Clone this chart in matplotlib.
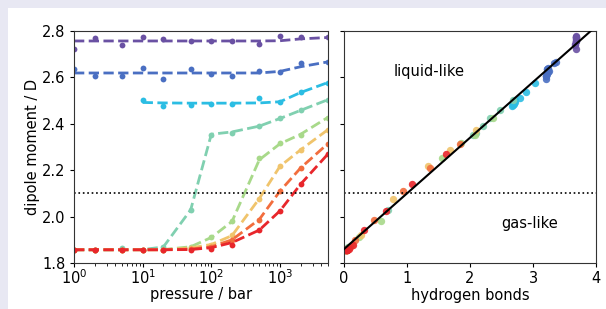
"""Dipole moment vs pressure and vs hydrogen bonds, two panels."""

import matplotlib

matplotlib.use("Agg")
import matplotlib.pyplot as plt
from matplotlib.patches import Rectangle

# pressures [bar]
P = [1, 2, 5, 10, 20, 50, 100, 200, 500, 1000, 2000, 5000]
P_CYAN = [10, 20, 50, 100, 200, 500, 1000, 2000, 5000]

COLORS = ["#6a51a3", "#4a6fc2", "#2bbde3", "#80d0b0",
          "#a8d98a", "#f0c46c", "#f26d3d", "#e8262b"]

# dipole moment / D, data points
mu_purple = [2.722, 2.771, 2.739, 2.774, 2.764, 2.755, 2.757, 2.757, 2.745, 2.778, 2.774, 2.772]
mu_blue = [2.636, 2.608, 2.606, 2.640, 2.594, 2.636, 2.615, 2.605, 2.628, 2.624, 2.663, 2.665]
mu_cyan = [2.501, 2.475, 2.482, 2.487, 2.485, 2.511, 2.496, 2.537, 2.576]
mu_teal = [1.857, 1.857, 1.864, 1.857, 1.869, 2.029, 2.353, 2.362, 2.390, 2.423, 2.458, 2.504]
mu_green = [1.857, 1.857, 1.857, 1.857, 1.858, 1.870, 1.910, 1.979, 2.252, 2.316, 2.350, 2.426]
mu_yellow = [1.857, 1.857, 1.857, 1.857, 1.857, 1.865, 1.878, 1.920, 2.078, 2.217, 2.288, 2.372]
mu_orange = [1.857, 1.857, 1.857, 1.857, 1.857, 1.860, 1.868, 1.901, 1.987, 2.109, 2.210, 2.312]
mu_red = [1.857, 1.857, 1.857, 1.857, 1.855, 1.857, 1.862, 1.877, 1.942, 2.024, 2.139, 2.269]

# dashed fit curves
fit_purple = [2.757, 2.757, 2.757, 2.757, 2.757, 2.757, 2.757, 2.757, 2.757, 2.758, 2.766, 2.772]
fit_blue = [2.619, 2.619, 2.619, 2.619, 2.619, 2.619, 2.619, 2.619, 2.619, 2.626, 2.646, 2.667]
fit_cyan = [2.492, 2.490, 2.489, 2.489, 2.489, 2.490, 2.495, 2.535, 2.578]
fit_teal = [1.857, 1.857, 1.857, 1.858, 1.869, 2.029, 2.355, 2.365, 2.390, 2.423, 2.458, 2.504]
fit_green = [1.857, 1.857, 1.857, 1.857, 1.858, 1.870, 1.910, 1.979, 2.245, 2.314, 2.355, 2.428]
fit_yellow = [1.857, 1.857, 1.857, 1.857, 1.857, 1.865, 1.880, 1.918, 2.078, 2.217, 2.288, 2.375]
fit_orange = [1.857, 1.857, 1.857, 1.857, 1.857, 1.860, 1.870, 1.900, 1.988, 2.110, 2.210, 2.315]
fit_red = [1.857, 1.857, 1.857, 1.857, 1.857, 1.858, 1.866, 1.888, 1.942, 2.025, 2.140, 2.270]

# hydrogen bonds per molecule, one per data point above
hb_purple = [3.68, 3.69, 3.67, 3.69, 3.68, 3.68, 3.68, 3.68, 3.67, 3.69, 3.69, 3.69]
hb_blue = [3.22, 3.20, 3.21, 3.24, 3.20, 3.23, 3.22, 3.21, 3.25, 3.24, 3.33, 3.37]
hb_cyan = [2.71, 2.67, 2.68, 2.70, 2.69, 2.80, 2.72, 2.89, 3.03]
hb_teal = [0.03, 0.03, 0.04, 0.04, 0.06, 0.70, 2.04, 2.10, 2.21, 2.32, 2.47, 2.69]
hb_green = [0.02, 0.03, 0.03, 0.04, 0.05, 0.08, 0.24, 0.59, 1.55, 1.86, 2.08, 2.37]
hb_yellow = [0.02, 0.03, 0.03, 0.04, 0.05, 0.06, 0.12, 0.27, 0.78, 1.34, 1.69, 2.10]
hb_orange = [0.02, 0.02, 0.03, 0.04, 0.04, 0.06, 0.10, 0.18, 0.48, 0.93, 1.37, 1.84]
hb_red = [0.02, 0.03, 0.03, 0.04, 0.04, 0.05, 0.08, 0.15, 0.32, 0.67, 1.08, 1.62]

# linear fit mu = a + b * hb
FIT_A = 1.86
FIT_B = 0.24
HB_LINE = [0.0, 4.0]

THRESHOLD = 2.1

series = [
    (P, mu_purple, fit_purple, hb_purple),
    (P, mu_blue, fit_blue, hb_blue),
    (P_CYAN, mu_cyan, fit_cyan, hb_cyan),
    (P, mu_teal, fit_teal, hb_teal),
    (P, mu_green, fit_green, hb_green),
    (P, mu_yellow, fit_yellow, hb_yellow),
    (P, mu_orange, fit_orange, hb_orange),
    (P, mu_red, fit_red, hb_red),
]

plt.rcParams["font.size"] = 10.5
plt.rcParams["xtick.major.size"] = 3
plt.rcParams["ytick.major.size"] = 3
plt.rcParams["xtick.minor.size"] = 1.8
plt.rcParams["xtick.major.pad"] = 3
plt.rcParams["ytick.major.pad"] = 3
plt.rcParams["axes.edgecolor"] = "#333333"

fig = plt.figure(figsize=(6.06, 3.09), dpi=100, facecolor="#e8e8f3")
fig.patches.append(Rectangle((8 / 606, 0), 1, 1 - 8 / 309, transform=fig.transFigure,
                             facecolor="white", edgecolor="none", zorder=-10))

ax1 = fig.add_axes([74 / 606, 1 - 263 / 309, 254 / 606, 232 / 309])
ax2 = fig.add_axes([344 / 606, 1 - 263 / 309, 252 / 606, 232 / 309])

for color, (p, mu, fit, hb) in zip(COLORS, series):
    ax1.plot(p, fit, ls="--", lw=2, color=color)
    ax1.plot(p, mu, "o", ms=4.2, color=color, mec="none")
    ax2.plot(hb, mu, "o", ms=5.3, color=color, mec="none", alpha=0.9)

ax1.axhline(THRESHOLD, color="black", ls=":", lw=1.2)
ax1.set_xscale("log")
ax1.set_xlim(1, 5000)
ax1.set_ylim(1.8, 2.8)
ax1.set_yticks([1.8, 2.0, 2.2, 2.4, 2.6, 2.8])
ax1.tick_params(axis="x", which="major", pad=0.5)
ax1.set_xlabel("pressure / bar", labelpad=0.5)
ax1.set_ylabel("dipole moment / D", labelpad=1.5)

ax2.plot(HB_LINE, [FIT_A + FIT_B * h for h in HB_LINE], color="black", lw=1.5, zorder=5)
ax2.axhline(THRESHOLD, color="black", ls=":", lw=1.2)
ax2.set_xlim(0, 4)
ax2.set_ylim(1.8, 2.8)
ax2.set_yticks([1.8, 2.0, 2.2, 2.4, 2.6, 2.8])
ax2.set_yticklabels([])
ax2.set_xticks([0, 1, 2, 3, 4])
ax2.set_xlabel("hydrogen bonds", labelpad=1)
ax2.text(1.35, 2.624, "liquid-like", ha="center", va="center")
ax2.text(2.95, 1.970, "gas-like", ha="center", va="center")

fig.savefig("out.png", dpi=100, facecolor=fig.get_facecolor())
